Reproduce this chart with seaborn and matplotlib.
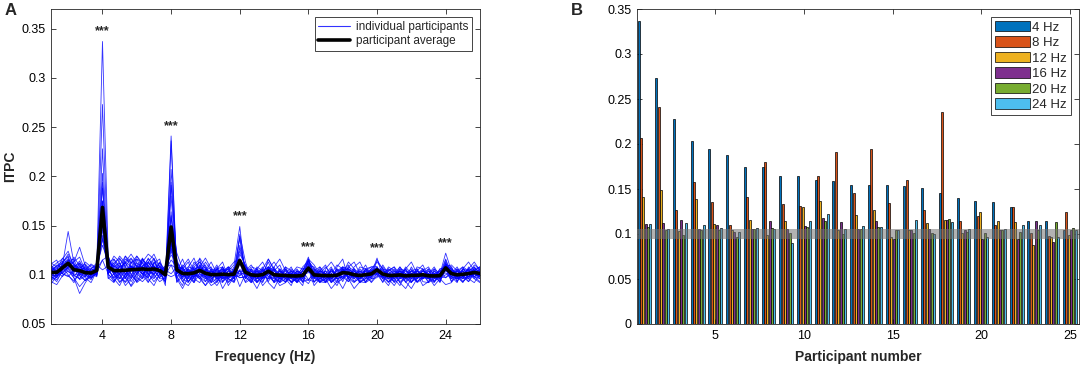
'''ITPC spectra per participant (A) and ITPC at the stimulation harmonics (B)'''
import numpy as np
import pandas as pd
import seaborn as sns
import matplotlib.pyplot as plt
from matplotlib import ticker
from matplotlib.lines import Line2D


#region data
participants = np.arange(1, 26)
harmonics = [4, 8, 12, 16, 20, 24]
band_labels = ['4 Hz', '8 Hz', '12 Hz', '16 Hz', '20 Hz', '24 Hz']
band_colors = ['#0072BD', '#D95319', '#EDB120', '#7E2F8E', '#77AC30', '#4DBEEE']

# ITPC at each harmonic, participants sorted by 4 Hz value
itpc_4hz = [0.337, 0.273, 0.228, 0.203, 0.194, 0.188, 0.175, 0.175, 0.165, 0.164, 0.160, 0.159, 0.154,
            0.154, 0.154, 0.153, 0.151, 0.146, 0.140, 0.137, 0.136, 0.130, 0.115, 0.115, 0.105]
itpc_8hz = [0.207, 0.241, 0.127, 0.158, 0.136, 0.110, 0.141, 0.180, 0.133, 0.131, 0.164, 0.191, 0.146,
            0.194, 0.135, 0.160, 0.127, 0.236, 0.115, 0.120, 0.110, 0.130, 0.101, 0.098, 0.124]
itpc_12hz = [0.141, 0.149, 0.103, 0.139, 0.111, 0.105, 0.116, 0.099, 0.115, 0.130, 0.137, 0.104, 0.121,
             0.127, 0.097, 0.105, 0.112, 0.116, 0.101, 0.124, 0.115, 0.113, 0.088, 0.097, 0.099]
itpc_16hz = [0.111, 0.112, 0.116, 0.106, 0.110, 0.102, 0.106, 0.115, 0.106, 0.109, 0.118, 0.113, 0.106,
             0.114, 0.095, 0.104, 0.106, 0.116, 0.104, 0.094, 0.104, 0.095, 0.114, 0.091, 0.104]
itpc_20hz = [0.108, 0.104, 0.099, 0.104, 0.104, 0.097, 0.106, 0.107, 0.101, 0.108, 0.115, 0.100, 0.106,
             0.108, 0.104, 0.101, 0.101, 0.117, 0.102, 0.101, 0.104, 0.102, 0.104, 0.113, 0.107]
itpc_24hz = [0.111, 0.106, 0.112, 0.110, 0.107, 0.102, 0.107, 0.106, 0.090, 0.115, 0.122, 0.106, 0.109,
             0.108, 0.105, 0.116, 0.100, 0.113, 0.106, 0.097, 0.106, 0.110, 0.110, 0.097, 0.104]

noise_band = (0.094, 0.106)

# spectrum bins 1..26 Hz in 1/3 Hz steps
freq_bins = np.round(np.linspace(1, 26, 76), 3)

# ITPC x1000 in the bins between harmonics; each '|' is a harmonic bin (values above)
individual_spectra = [
    "96 101 112 121 110 99 94 100 108 | 119 104 93 97 112 116 104 96 89 101 93 | 110 93 89 98 117 108 92 96 106 89 98 | 113 96 86 98 116 106 93 101 108 96 89 | 104 93 92 101 110 106 96 86 93 106 108 | 96 89 101 108 98 92 104 110 98 89 96 | 108 98 92 101 110 106",
    "110 104 98 107 118 109 100 97 103 | 108 119 113 97 89 101 116 109 100 93 97 | 101 108 116 104 96 89 101 108 93 104 110 | 98 92 106 113 101 92 96 108 104 93 101 | 92 104 110 96 89 101 113 106 93 92 104 | 108 101 92 96 106 113 101 89 93 106 101 | 93 104 108 96 92 101",
    "99 93 105 113 102 112 106 98 101 | 101 93 109 119 108 92 97 113 121 108 96 | 93 98 106 96 92 104 113 101 86 96 106 | 104 110 101 89 96 108 116 104 92 96 104 | 110 101 93 106 96 86 98 108 113 101 92 | 98 108 104 92 86 96 108 106 96 101 92 | 98 92 106 113 104 96",
    "107 112 116 124 108 95 99 106 110 | 104 112 101 89 96 108 100 92 104 113 104 | 122 106 96 108 113 98 89 93 104 108 96 | 101 93 104 96 106 98 89 92 101 108 106 | 96 108 101 92 98 108 104 96 101 110 98 | 106 96 89 98 108 101 93 98 106 93 104 | 106 101 93 98 108 98",
    "95 100 109 115 103 107 111 104 99 | 97 92 104 113 121 112 101 97 109 104 92 | 104 116 101 92 108 117 106 96 92 101 96 | 108 101 96 106 93 104 110 96 89 104 93 | 98 92 106 113 104 93 106 101 92 96 106 | 92 104 108 101 93 86 96 104 108 98 93 | 104 96 98 106 96 92",
    "112 108 101 99 94 102 97 92 104 | 116 109 119 112 100 93 104 117 108 97 108 | 96 86 98 113 106 93 101 106 113 96 92 | 92 96 108 104 92 86 98 106 96 93 101 | 106 101 96 86 93 104 110 98 106 101 96 | 110 101 96 106 98 104 92 96 101 108 98 | 96 106 101 93 104 108",
    "101 97 106 110 113 118 104 96 103 | 96 101 92 100 109 104 113 121 116 101 100 | 113 104 93 101 96 106 98 92 101 106 113 | 96 106 93 98 108 101 92 96 93 101 106 | 93 98 104 93 108 116 96 92 98 106 101 | 101 93 98 108 101 96 106 93 92 96 106 | 108 93 104 98 101 106",
    "91 98 104 109 100 96 103 110 106 | 112 100 96 104 93 101 109 100 104 112 97 | 98 89 108 117 101 96 106 104 93 98 108 | 110 98 92 96 106 113 104 93 98 92 96 | 101 106 96 98 92 96 108 113 101 93 98 | 96 106 101 92 96 108 98 106 96 92 101 | 101 108 98 106 113 104",
    "104 109 114 106 97 88 95 102 100 | 105 97 112 101 88 96 116 108 97 104 93 | 106 96 104 93 110 98 92 106 108 93 98 | 98 104 96 101 113 98 106 98 101 106 98 | 89 96 98 104 101 108 106 96 104 98 93 | 104 98 93 104 92 98 104 101 106 101 96 | 92 101 108 104 98 96",
    "108 103 110 144 112 100 102 97 101 | 113 108 97 93 104 119 112 101 93 100 101 | 108 101 96 106 98 89 96 101 106 101 93 | 106 93 101 108 98 96 93 106 98 101 92 | 108 98 92 96 101 98 93 101 96 104 108 | 98 92 101 98 106 93 98 101 92 104 98 | 98 104 96 108 101 98",
    "100 106 113 119 104 109 98 106 112 | 101 116 108 112 117 109 104 93 100 109 104 | 96 106 113 98 104 110 96 89 98 96 106 | 101 108 106 93 104 92 101 108 96 98 104 | 96 104 101 108 96 106 101 98 108 106 96 | 106 104 96 89 101 106 96 104 101 93 101 | 104 93 106 101 106 108",
    "106 99 102 108 113 128 109 101 98 | 108 101 116 108 96 104 97 112 105 96 96 | 116 98 106 101 108 96 101 110 96 104 98 | 93 101 98 106 116 104 98 92 101 96 104 | 101 93 98 96 104 108 96 106 98 93 101 | 93 101 106 98 96 92 101 96 104 98 106 | 106 98 96 104 108 101",
    "98 95 103 107 99 104 113 108 106 | 109 93 100 119 113 101 108 116 109 104 97 | 106 108 98 92 101 113 104 98 108 96 93 | 110 96 104 98 96 106 101 96 104 93 98 | 98 101 108 101 96 98 104 93 96 101 106 | 101 96 98 106 104 101 93 98 96 104 93 | 96 101 104 98 106 98",
    "103 110 107 114 116 101 94 99 109 | 117 105 101 92 100 108 101 105 116 108 100 | 104 93 101 110 116 98 106 93 101 108 104 | 108 104 93 98 104 108 96 101 92 98 108 | 106 96 93 98 106 101 108 104 93 96 98 | 98 104 108 96 98 104 101 106 98 93 98 | 110 104 98 93 101 106",
    "111 115 101 98 105 111 100 103 99 | 100 96 89 101 108 97 93 100 112 116 96 | 92 104 93 101 96 104 108 96 104 98 101 | 98 92 96 104 101 93 104 98 106 101 93 | 93 96 101 92 98 106 98 101 96 101 104 | 104 101 93 101 106 98 96 101 93 98 104 | 98 96 106 104 98 93",
    "102 97 112 118 99 96 105 111 107 | 112 116 104 96 109 101 96 104 100 109 101 | 101 110 104 96 106 101 93 104 98 92 98 | 104 98 106 101 96 98 92 101 96 104 101 | 104 108 98 104 101 96 104 98 101 92 96 | 96 101 104 98 93 101 104 98 101 96 101 | 101 106 98 96 104 108",
    "97 104 108 100 92 103 108 99 102 | 104 112 117 108 101 93 100 109 104 97 105 | 110 96 92 104 113 106 98 106 96 101 104 | 96 106 98 92 106 101 96 93 104 98 96 | 98 93 96 101 93 104 106 101 92 98 104 | 101 106 101 96 101 96 98 104 101 106 96 | 104 98 93 101 96 104",
    "93 90 99 104 97 81 92 100 104 | 101 109 105 97 104 112 108 100 96 105 89 | 98 104 108 106 98 93 104 96 101 106 96 | 106 101 92 104 108 96 104 98 93 96 98 | 96 104 101 93 98 101 93 104 98 106 101 | 98 93 96 104 98 104 106 96 98 101 98 | 93 98 104 96 101 98",
    "109 101 105 111 107 114 103 107 100 | 108 104 96 109 116 108 117 104 101 112 104 | 108 98 104 98 106 104 96 101 108 98 104 | 101 98 104 96 101 106 98 104 101 92 101 | 101 98 104 98 106 96 101 96 104 98 98 | 106 98 101 93 98 101 104 96 101 98 101 | 98 104 101 106 98 104",
    "105 108 112 103 101 99 110 102 104 | 116 100 109 104 97 116 112 105 109 101 108 | 113 101 93 98 104 108 101 106 98 104 101 | 108 96 101 106 98 93 106 96 98 101 98 | 104 92 96 104 98 106 98 106 101 96 104 | 98 96 104 101 96 98 93 98 104 96 98 | 101 96 98 104 101 96",
    "100 104 117 110 108 112 100 95 107 | 105 97 101 116 112 119 109 113 104 108 100 | 106 106 98 108 101 98 104 98 104 106 96 | 104 101 96 98 108 104 98 101 96 104 101 | 98 104 93 101 96 98 101 104 98 104 98 | 104 101 98 104 101 93 96 101 98 101 96 | 106 101 96 98 104 98",
    "94 98 106 115 111 106 101 104 108 | 113 109 105 113 108 104 116 101 112 104 109 | 104 98 101 106 108 104 98 101 96 98 104 | 106 98 101 96 104 98 101 96 101 98 104 | 101 96 101 98 104 106 98 93 101 98 101 | 101 98 96 101 98 104 101 98 96 101 98 | 104 98 101 106 104 101",
    "108 103 106 113 105 104 107 100 102 | 101 108 112 100 113 109 105 113 108 101 105 | 108 106 104 101 98 106 101 96 98 101 104 | 101 104 98 101 106 101 96 98 101 96 98 | 106 98 101 96 101 104 101 98 96 104 101 | 98 101 101 98 104 98 101 104 98 98 101 | 101 104 98 101 106 104",
    "103 107 101 108 110 103 98 105 106 | 119 101 108 104 109 105 101 109 117 100 101 | 101 108 98 104 110 98 104 101 106 96 101 | 98 106 101 104 108 98 104 101 98 104 96 | 101 101 98 106 98 104 96 101 104 101 106 | 106 98 98 104 96 101 98 101 96 101 104 | 104 98 106 101 98 104",
    "107 99 110 116 104 108 105 102 110 | 109 105 100 112 104 109 108 97 113 105 104 | 110 101 106 98 104 101 98 106 101 108 98 | 104 101 106 98 104 101 96 98 104 101 98 | 98 104 101 98 101 104 106 101 98 101 104 | 101 96 101 104 98 101 98 96 101 98 98 | 101 101 104 98 101 106",
]
#endregion


#region build tables
peak_table = np.column_stack([itpc_4hz, itpc_8hz, itpc_12hz, itpc_16hz, itpc_20hz, itpc_24hz])

rows = []
for p, spec, peaks in zip(participants, individual_spectra, peak_table):
    segs = [[int(v) / 1000 for v in s.split()] for s in spec.split('|')]
    curve = list(segs[0])
    for pk, seg in zip(peaks, segs[1:]):
        curve += [pk] + seg
    for f, v in zip(freq_bins, curve):
        rows.append((p, f, v))
spectra = pd.DataFrame(rows, columns=['participant', 'freq', 'itpc'])

bars = pd.DataFrame({'participant': np.repeat(participants, len(band_labels)),
                     'band': band_labels * len(participants),
                     'itpc': peak_table.ravel()})
#endregion


def matlab_axes(ax):
    '''boxed axes with inward ticks on all sides'''
    for s in ax.spines.values():
        s.set_visible(True)
        s.set_linewidth(0.6)
        s.set_color('0.15')
    ax.tick_params(direction='in', top=True, right=True, length=3.5, width=0.6,
                   color='0.15', labelsize=9, pad=4, labelcolor='black')
    ax.yaxis.set_major_formatter(ticker.FuncFormatter(lambda v, _: '%g' % round(v, 4)))


sns.set_theme(style='ticks')
plt.rcParams['font.family'] = ['Liberation Sans', 'DejaVu Sans']

fig = plt.figure(figsize=(10.84, 3.70), dpi=100)
ax_a = fig.add_axes([51 / 1084, 46 / 370, 429 / 1084, 315 / 370])
ax_b = fig.add_axes([637 / 1084, 46 / 370, 442 / 1084, 315 / 370])

#region panel A
sns.lineplot(data=spectra, x='freq', y='itpc', units='participant', estimator=None,
             color='blue', lw=0.6, alpha=0.8, ax=ax_a, legend=False)
sns.lineplot(data=spectra, x='freq', y='itpc', estimator='mean', errorbar=None,
             color='black', lw=2.6, ax=ax_a, legend=False)

for h in harmonics:
    top = spectra.loc[np.isclose(spectra['freq'], h), 'itpc'].max()
    ax_a.annotate('***', (h, top), xytext=(0, 5), textcoords='offset points',
                  ha='center', va='baseline', fontsize=9, fontweight='bold')

ax_a.set_xlim(1, 26)
ax_a.set_ylim(0.05, 0.37)
ax_a.set_xticks(harmonics)
ax_a.set_yticks(np.arange(0.05, 0.351, 0.05))
matlab_axes(ax_a)
ax_a.set_xlabel('Frequency (Hz)', fontweight='bold', fontsize=10, labelpad=6)
ax_a.set_ylabel('ITPC', fontweight='bold', fontsize=10, labelpad=3)

handles = [Line2D([], [], color='blue', lw=0.8, alpha=0.8), Line2D([], [], color='black', lw=2.6)]
leg = ax_a.legend(handles, ['individual participants', 'participant average'], loc='upper right',
                  fontsize=8.5, frameon=True, fancybox=False, edgecolor='0.15', framealpha=1,
                  borderpad=0.3, labelspacing=0.2, handlelength=2.7, handletextpad=0.5,
                  borderaxespad=0.7)
leg.get_frame().set_linewidth(0.6)
#endregion

#region panel B
sns.barplot(data=bars, x='participant', y='itpc', hue='band', palette=band_colors,
            native_scale=True, width=0.8, gap=0.15, saturation=1, errorbar=None,
            edgecolor='black', linewidth=0.5, ax=ax_b)
ax_b.axhspan(*noise_band, color='0.45', alpha=0.55, lw=0, zorder=4)

ax_b.set_xlim(0.58, 25.52)
ax_b.set_ylim(0, 0.35)
ax_b.set_xticks([5, 10, 15, 20, 25])
ax_b.set_yticks(np.arange(0, 0.351, 0.05))
matlab_axes(ax_b)
ax_b.set_xlabel('Participant number', fontweight='bold', fontsize=10, labelpad=6)
ax_b.set_ylabel('')
sns.move_legend(ax_b, 'upper right', title=None, frameon=True, fancybox=False, edgecolor='0.15',
                framealpha=1, fontsize=9.5, handlelength=2.6, handleheight=0.85, labelspacing=0.2,
                handletextpad=0.2, borderpad=0.3, borderaxespad=0.6)
ax_b.get_legend().get_frame().set_linewidth(0.6)
#endregion

fig.text(5 / 1084, 1 - 3 / 370, 'A', fontweight='bold', fontsize=12, va='top')
fig.text(571 / 1084, 1 - 3 / 370, 'B', fontweight='bold', fontsize=12, va='top')

fig.savefig('out.png', dpi=100)
